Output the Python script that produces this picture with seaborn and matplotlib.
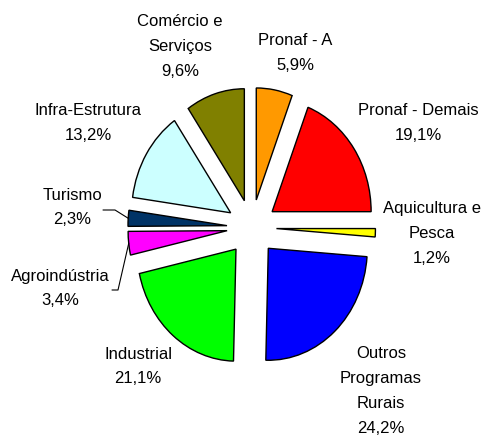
import matplotlib
matplotlib.use("Agg")
import matplotlib.pyplot as plt
import seaborn as sns
import numpy as np

sns.set_theme(style="white")
plt.rcParams['font.family'] = ['Liberation Sans', 'DejaVu Sans']

categories = ["Pronaf - A", "Pronaf - Demais", "Aquicultura e\nPesca",
              "Outros\nProgramas\nRurais", "Industrial", "Agroindústria",
              "Turismo", "Infra-Estrutura", "Comércio e\nServiços"]
values = [5.9, 19.1, 1.2, 24.2, 21.1, 3.4, 2.3, 13.2, 9.6]
pct_labels = ["5,9%", "19,1%", "1,2%", "24,2%", "21,1%", "3,4%", "2,3%", "13,2%", "9,6%"]
colors = ["#FF9900", "#FF0000", "#FFFF00", "#0000FF", "#00FF00",
          "#FF00FF", "#003366", "#CCFFFF", "#808000"]

W, H = 486, 442
RX, RY = 99.0, 112.0     # pie radius in pixels (slightly elliptical)
CX, CY = 251.7, 227.5    # pie centre in pixels (from top-left)

def px(x, y):
    return (x - CX) / RX, (CY - y) / RY

fig = plt.figure(figsize=(W / 100, H / 100), dpi=100)
ax = fig.add_axes([0, 0, 1, 1])

explode = [0.25] * len(values)
wedges, _ = ax.pie(values, colors=colors, startangle=90, counterclock=False,
                   explode=explode, radius=1.0,
                   wedgeprops=dict(edgecolor="black", linewidth=1.0))

ax.set_aspect("auto")
ax.set_xlim(-CX / RX, (W - CX) / RX)
ax.set_ylim(-(H - CY) / RY, CY / RY)
ax.axis("off")

# label positions in pixels (layout)
label_pos = [(295, 53), (418, 123), (432, 233.5), (381, 391), (138, 366.5),
             (60, 288.5), (72, 207.5), (88, 123), (180, 46.5)]
for cat, pct, (lx, ly) in zip(categories, pct_labels, label_pos):
    x, y = px(lx, ly)
    ax.text(x, y, f"{cat}\n{pct}", ha="center", va="center", fontsize=12,
            linespacing=1.82, color="black")

# leader lines for the small slices on the left
def wedge_point(w, frac=1.0):
    ang = np.deg2rad((w.theta1 + w.theta2) / 2)
    cx, cy = w.center
    return cx + frac * w.r * np.cos(ang), cy + frac * w.r * np.sin(ang)

tur = wedges[6]
x0, y0 = px(103, 210)
x1, y1 = px(115, 210)
x2, y2 = wedge_point(tur)
ax.plot([x0, x1, x2], [y0, y1, y2], color="black", lw=0.8)

agr = wedges[5]
x0, y0 = px(112, 290)
x1, y1 = px(118, 290)
x2, y2 = wedge_point(agr)
ax.plot([x0, x1, x2], [y0, y1, y2], color="black", lw=0.8)

fig.savefig("out.png", dpi=100, facecolor="white")
